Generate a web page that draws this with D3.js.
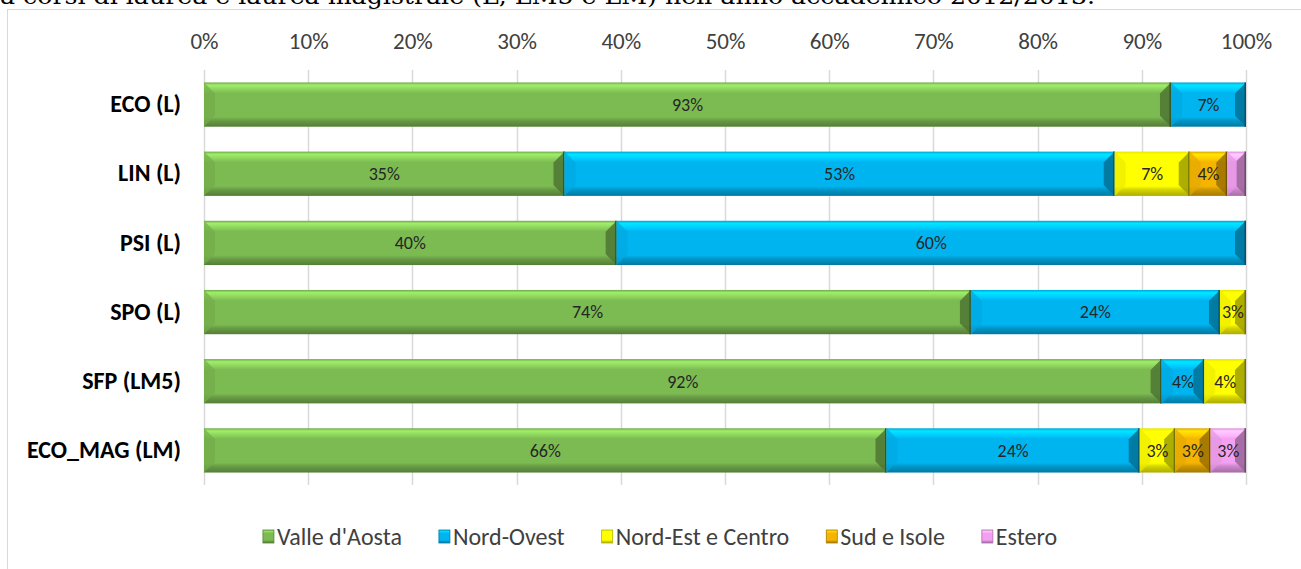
<!DOCTYPE html>
<html>
<head>
<meta charset="utf-8">
<script src="https://cdn.jsdelivr.net/npm/d3@7"></script>
<style>
  body { margin: 0; background: #fff; }
  svg { display: block; }
</style>
</head>
<body>
<div id="chart"></div>
<script>
(function() {

// data (percent of students per course, by area of origin)
var categories = ["ECO (L)", "LIN (L)", "PSI (L)", "SPO (L)", "SFP (LM5)", "ECO_MAG (LM)"];
var seriesNames = ["Valle d'Aosta", "Nord-Ovest", "Nord-Est e Centro", "Sud e Isole", "Estero"];
var valleAosta    = [92.8, 34.6, 39.6, 73.6, 91.9, 65.5];
var nordOvest     = [7.2, 52.8, 60.4, 23.9, 4.1, 24.3];
var nordEstCentro = [0, 7.2, 0, 2.5, 4.0, 3.4];
var sudIsole      = [0, 3.6, 0, 0, 0, 3.4];
var estero        = [0, 1.8, 0, 0, 0, 3.4];
var xTicks = [0, 10, 20, 30, 40, 50, 60, 70, 80, 90, 100];

var seriesValues = [valleAosta, nordOvest, nordEstCentro, sudIsole, estero];
var colors = ["#7cba52", "#00b4f0", "#ffff00", "#f5b400", "#f4a0f2"];

var width = 1301,
    height = 569,
    font = "Carlito, Calibri, 'Liberation Sans Narrow', 'Open Sans', sans-serif";

var svg = d3.select("#chart").append("svg")
    .attr("width", width)
    .attr("height", height);

// caption line from the document, cut off at the top
svg.append("text")
    .attr("x", 0)
    .attr("y", 4)
    .attr("font-family", "'DejaVu Serif', serif")
    .attr("font-size", 22)
    .attr("fill", "#000")
    .attr("textLength", 1095)
    .attr("lengthAdjust", "spacingAndGlyphs")
    .text("a corsi di laurea e laurea magistrale (L, LM5 e LM) nell\u2019anno accademico 2012/2013.");

// chart frame
svg.append("rect")
    .attr("x", 7.5)
    .attr("y", 9.5)
    .attr("width", 1400)
    .attr("height", 700)
    .attr("fill", "#fff")
    .attr("stroke", "#d9d9d9");

var x = d3.scaleLinear()
    .domain([0, 100])
    .range([204, 1246]);

var y = d3.scaleBand()
    .domain(categories)
    .range([70, 485])
    .paddingInner(0.36)
    .paddingOuter(0.18);

// gridlines
svg.append("g")
  .selectAll("line")
  .data(xTicks)
  .enter().append("line")
    .attr("x1", function(d) { return Math.round(x(d)) + 0.5; })
    .attr("x2", function(d) { return Math.round(x(d)) + 0.5; })
    .attr("y1", 70)
    .attr("y2", 485)
    .attr("stroke", "#d9d9d9")
    .attr("stroke-width", 1.5);

// top axis labels
var xAxis = svg.append("g")
    .attr("transform", "translate(0,49)")
    .call(d3.axisTop(x).tickValues(xTicks).tickSize(0).tickPadding(0)
      .tickFormat(function(d) { return d + "%"; }));
xAxis.select(".domain").remove();
xAxis.selectAll("text")
    .attr("font-family", font)
    .attr("font-size", 23)
    .attr("fill", "#404040");

// category labels
var yAxis = svg.append("g")
    .attr("transform", "translate(181,0)")
    .call(d3.axisLeft(y).tickSize(0).tickPadding(0));
yAxis.select(".domain").remove();
yAxis.selectAll("text")
    .attr("font-family", font)
    .attr("font-size", 24)
    .attr("font-weight", "bold")
    .attr("fill", "#000");

// stacked segments
var segments = [];
categories.forEach(function(c, i) {
  var acc = 0;
  seriesValues.forEach(function(vals, s) {
    var v = vals[i];
    if (v > 0) segments.push({cat: c, s: s, x0: acc, x1: acc + v, v: v});
    acc += v;
  });
});

var defs = svg.append("defs");
colors.forEach(function(col, s) {
  var c = d3.color(col);
  var grad = defs.append("linearGradient")
      .attr("id", "g" + s)
      .attr("x1", 0).attr("y1", 0).attr("x2", 0).attr("y2", 1);
  [[0, c.darker(0.3)], [0.06, c.brighter(0.7)], [0.16, c.brighter(0.35)], [0.24, c],
   [0.78, c], [0.86, c.darker(0.5)], [1, c.darker(1.1)]].forEach(function(st) {
    grad.append("stop").attr("offset", st[0]).attr("stop-color", st[1]);
  });
});

var bev = 11;
var seg = svg.append("g").selectAll("g")
  .data(segments)
  .enter().append("g");

seg.append("rect")
    .attr("x", function(d) { return x(d.x0); })
    .attr("y", function(d) { return y(d.cat); })
    .attr("width", function(d) { return x(d.x1) - x(d.x0); })
    .attr("height", y.bandwidth())
    .attr("fill", function(d) { return "url(#g" + d.s + ")"; });

// bevel ends
seg.append("path")
    .attr("d", function(d) {
      var x0 = x(d.x0), y0 = y(d.cat), h = y.bandwidth();
      var b = Math.min(bev, (x(d.x1) - x0) / 2);
      return "M" + x0 + "," + y0 + "L" + (x0 + b) + "," + (y0 + b) +
        "L" + (x0 + b) + "," + (y0 + h - b) + "L" + x0 + "," + (y0 + h) + "Z";
    })
    .attr("fill", function(d) { return d3.color(colors[d.s]).darker(0.2); })
    .attr("opacity", 0.7);

seg.append("path")
    .attr("d", function(d) {
      var x1 = x(d.x1), y0 = y(d.cat), h = y.bandwidth();
      var b = Math.min(bev, (x1 - x(d.x0)) / 2);
      return "M" + x1 + "," + y0 + "L" + (x1 - b) + "," + (y0 + b) +
        "L" + (x1 - b) + "," + (y0 + h - b) + "L" + x1 + "," + (y0 + h) + "Z";
    })
    .attr("fill", function(d) { return d3.color(colors[d.s]).darker(1.3); })
    .attr("opacity", 0.85);

seg.append("line")
    .attr("x1", function(d) { return x(d.x1) - 0.75; })
    .attr("x2", function(d) { return x(d.x1) - 0.75; })
    .attr("y1", function(d) { return y(d.cat); })
    .attr("y2", function(d) { return y(d.cat) + y.bandwidth(); })
    .attr("stroke", function(d) { return d3.color(colors[d.s]).darker(2.2); })
    .attr("stroke-width", 1.5);

// data labels
seg.filter(function(d) { return x(d.x1) - x(d.x0) > 22; })
  .append("text")
    .attr("x", function(d) { return (x(d.x0) + x(d.x1)) / 2; })
    .attr("y", function(d) { return y(d.cat) + y.bandwidth() / 2; })
    .attr("dy", "0.35em")
    .attr("text-anchor", "middle")
    .attr("font-family", font)
    .attr("font-size", 18)
    .attr("fill", "#262626")
    .text(function(d) { return Math.round(d.v) + "%"; });

// legend
var legend = svg.append("g")
    .attr("transform", "translate(0,537)");
var items = legend.selectAll("g")
  .data(seriesNames)
  .enter().append("g");
items.append("rect")
    .attr("x", 0)
    .attr("y", -7)
    .attr("width", 11)
    .attr("height", 13)
    .attr("fill", function(d, i) { return "url(#g" + i + ")"; })
    .attr("stroke", function(d, i) { return d3.color(colors[i]).darker(1); })
    .attr("stroke-width", 0.8);
items.append("text")
    .attr("x", 14)
    .attr("dy", "0.35em")
    .attr("font-family", font)
    .attr("font-size", 24)
    .attr("fill", "#404040")
    .text(function(d) { return d; });

var pos = 0, offsets = [];
items.each(function() {
  offsets.push(pos);
  pos += 14 + this.querySelector("text").getComputedTextLength() + 37;
});
var total = pos - 37, start = 660 - total / 2;
items.attr("transform", function(d, i) { return "translate(" + (start + offsets[i]) + ",0)"; });

}());
</script>
</body>
</html>
